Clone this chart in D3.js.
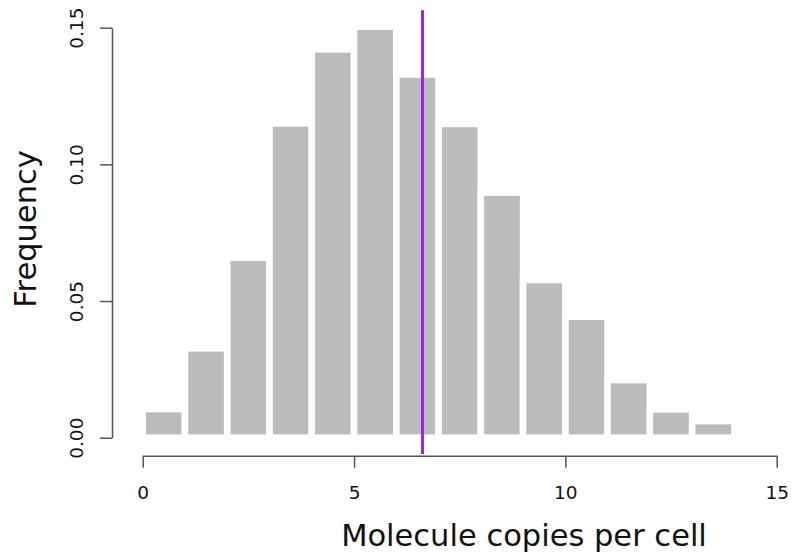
<!DOCTYPE html>
<html>
<head>
<meta charset="utf-8">
<script src="https://cdn.jsdelivr.net/npm/d3@7"></script>
<style>
  body { margin: 0; background: #fff; }
  svg { display: block; font-family: "DejaVu Sans", sans-serif; }
</style>
</head>
<body>
<svg id="hist"></svg>
<script>
// Histogram bins (left edge) and their frequencies
const binStarts = [0, 1, 2, 3, 4, 5, 6, 7, 8, 9, 10, 11, 12, 13];
const frequencies = [0.0105, 0.0327, 0.0659, 0.1150, 0.1421, 0.1504, 0.1329,
                     0.1148, 0.0897, 0.0577, 0.0443, 0.0211, 0.0104, 0.0061];
const meanValue = 6.62;
const xTicks = [0, 5, 10, 15];
const yTicks = [0, 0.05, 0.10, 0.15];

const width = 792, height = 554;
const svg = d3.select("#hist").attr("width", width).attr("height", height);

// Scales (pixel ranges match the plot area)
const x = d3.scaleLinear().domain([0, 15]).range([142.7, 776.7]);
const y = d3.scaleLinear().domain([0, 0.15]).range([437.7, 27.7]);

// Bars, white border gives the gaps
svg.append("g")
  .selectAll("rect")
  .data(binStarts)
  .enter()
  .append("rect")
  .attr("x", d => x(d))
  .attr("y", (d, i) => y(frequencies[i]))
  .attr("width", d => x(d + 1) - x(d))
  .attr("height", (d, i) => y(0) - y(frequencies[i]))
  .attr("fill", "#bbbbbb")
  .attr("stroke", "#fff")
  .attr("stroke-width", 6.6);

// Mean line
svg.append("line")
  .attr("x1", x(meanValue)).attr("x2", x(meanValue))
  .attr("y1", y(-0.006)).attr("y2", y(0.1564))
  .attr("stroke", "#a020f0")
  .attr("stroke-width", 3);

// X axis
const xAxis = svg.append("g")
  .attr("transform", "translate(0,455.7)")
  .call(d3.axisBottom(x).tickValues(xTicks).tickSize(12).tickSizeOuter(0).tickFormat(d3.format("d")));
xAxis.selectAll("text").attr("y", 43.6).attr("dy", 0)
  .style("font-size", "18.5px").attr("fill", "#111");

// Y axis
const yAxis = svg.append("g")
  .attr("transform", "translate(112,0)")
  .call(d3.axisLeft(y).tickValues(yTicks).tickSize(12).tickSizeOuter(0).tickFormat(d3.format(".2f")));
yAxis.selectAll("text")
  .attr("x", null).attr("dy", 0)
  .attr("transform", "translate(-28.7,0) rotate(-90)")
  .style("text-anchor", "middle")
  .style("font-size", "18.5px").attr("fill", "#111");

[xAxis, yAxis].forEach(a => {
  a.select(".domain").attr("stroke", "#555").attr("stroke-width", 1.5);
  a.selectAll(".tick line").attr("stroke", "#555").attr("stroke-width", 1.5);
  a.attr("font-family", null);
});

// Axis titles
svg.append("text")
  .attr("x", 524)
  .attr("y", 546)
  .attr("text-anchor", "middle")
  .style("font-size", "30.5px")
  .attr("fill", "#111")
  .text("Molecule copies per cell");

svg.append("text")
  .attr("transform", "translate(35.7,229) rotate(-90)")
  .attr("text-anchor", "middle")
  .style("font-size", "30.5px")
  .attr("fill", "#111")
  .text("Frequency");
</script>
</body>
</html>
